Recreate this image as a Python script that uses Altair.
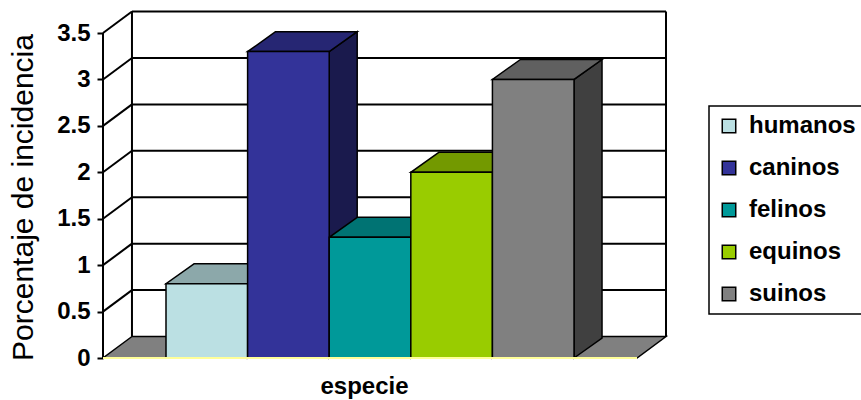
import altair as alt
import pandas as pd

# ---- data ----
species = ["humanos", "caninos", "felinos", "equinos", "suinos"]
values = [0.8, 3.3, 1.3, 2.0, 3.0]
front_colors = ["#BBE0E3", "#333399", "#009999", "#99CC00", "#808080"]
top_colors = ["#8CA8AA", "#262673", "#007373", "#739900", "#606060"]
side_colors = ["#5E7072", "#1A1A4D", "#004D4D", "#4D6600", "#404040"]
y_ticks = [0, 0.5, 1, 1.5, 2, 2.5, 3, 3.5]
y_max = 3.5
floor_color = "#808080"
axis_line_color = "#FFFF99"

# ---- geometry constants (in bar-width / value units) ----
X0, X1 = -0.772, 5.772          # floor front edge
WALL_DX, WALL_DY = 0.355, 0.2315  # depth of the floor / walls
BAR_DX, BAR_DY = 0.343, 0.215     # depth of the bars
FONT = "Liberation Sans"

xs = alt.Scale(domain=[X0, X1 + WALL_DX], nice=False, zero=False)
ys = alt.Scale(domain=[0, y_max + WALL_DY + 0.006], nice=False, zero=False)

x_axis = alt.Axis(labels=False, ticks=False, domain=False, grid=False,
                  title="especie", titleFont=FONT, titleFontWeight="bold",
                  titleFontSize=24, titleColor="black", titleX=261, titleY=28,
                  titleBaseline="middle", titleAlign="center")
y_axis = alt.Axis(values=y_ticks, format="~g", grid=False, domain=False,
                  tickColor="black", tickWidth=2, tickSize=6,
                  labelFont=FONT, labelFontWeight="bold", labelFontSize=24,
                  labelColor="black", labelPadding=7,
                  title="Porcentaje de incidencia", titleFont=FONT,
                  titleFontSize=30, titleFontWeight="normal", titleColor="black",
                  titleX=-80, titleY=186, titleAngle=270,
                  titleBaseline="middle", titleAlign="center")


def X(f):
    return alt.X(f, type="quantitative", scale=xs, axis=x_axis)


def Y(f):
    return alt.Y(f, type="quantitative", scale=ys, axis=y_axis)


# ---- tables built from the arrays ----
fronts = pd.DataFrame({
    "species": species,
    "x": [i for i in range(len(species))],
    "x2": [i + 1 for i in range(len(species))],
    "y": [0] * len(species),
    "y2": values,
})

tops_rows, sides_rows = [], []
for i, (s, v) in enumerate(zip(species, values)):
    tops_rows.append({"species": s, "y": v, "x": i, "x2": i + 1, "fill": top_colors[i]})
    tops_rows.append({"species": s, "y": v + BAR_DY, "x": i + BAR_DX,
                      "x2": i + 1 + BAR_DX, "fill": top_colors[i]})
    sides_rows.append({"species": s, "x": i + 1, "y": 0, "y2": v, "fill": side_colors[i]})
    sides_rows.append({"species": s, "x": i + 1 + BAR_DX, "y": BAR_DY,
                       "y2": v + BAR_DY, "fill": side_colors[i]})
tops = pd.DataFrame(tops_rows)
sides = pd.DataFrame(sides_rows)

floor = pd.DataFrame({
    "y": [0, WALL_DY],
    "x": [X0, X0 + WALL_DX],
    "x2": [X1, X1 + WALL_DX],
})

# wall edges and gridlines
lines = []
bx0, bx1 = X0 + WALL_DX, X1 + WALL_DX
for k in y_ticks[1:]:
    lines.append({"x": bx0, "y": k + WALL_DY, "x2": bx1, "y2": k + WALL_DY})  # back grid
    lines.append({"x": X0, "y": k, "x2": bx0, "y2": k + WALL_DY})            # side grid
lines.append({"x": X0, "y": 0, "x2": X0, "y2": y_max})                       # front left edge
lines.append({"x": bx0, "y": WALL_DY, "x2": bx0, "y2": y_max + WALL_DY})     # back left edge
lines.append({"x": bx1, "y": WALL_DY, "x2": bx1, "y2": y_max + WALL_DY})     # back right edge
walls = pd.DataFrame(lines)

base_line = pd.DataFrame({"x": [X0], "x2": [X1], "y": [0]})

# ---- layers ----
floor_layer = alt.Chart(floor).mark_area(
    orient="horizontal", fill=floor_color, stroke="black", strokeWidth=1.5
).encode(y=Y("y"), x=X("x"), x2="x2")

wall_layer = alt.Chart(walls).mark_rule(color="black", strokeWidth=2).encode(
    x=X("x"), y=Y("y"), x2="x2", y2="y2")

side_layer = alt.Chart(sides).mark_area(
    orient="vertical", stroke="black", strokeWidth=1.5
).encode(x=X("x"), y=Y("y"), y2="y2",
         fill=alt.Fill("fill:N", scale=None), detail="species:N")

top_layer = alt.Chart(tops).mark_area(
    orient="horizontal", stroke="black", strokeWidth=1.5
).encode(y=Y("y"), x=X("x"), x2="x2",
         fill=alt.Fill("fill:N", scale=None), detail="species:N")

front_layer = alt.Chart(fronts).mark_rect(stroke="black", strokeWidth=1.5).encode(
    x=X("x"), x2="x2", y=Y("y"), y2="y2",
    color=alt.Color("species:N",
                    scale=alt.Scale(domain=species, range=front_colors),
                    legend=alt.Legend(title=None, orient="none", legendX=606, legendY=95,
                                      strokeColor="black", padding=8,
                                      fillColor="white", symbolType="square",
                                      symbolSize=182, symbolStrokeColor="black",
                                      symbolStrokeWidth=1.5, labelFont=FONT,
                                      labelFontWeight="bold", labelFontSize=24,
                                      labelColor="black", labelOffset=8,
                                      rowPadding=18)))

base_layer = alt.Chart(base_line).mark_rule(color=axis_line_color, strokeWidth=2).encode(
    x=X("x"), x2="x2", y=Y("y"))

chart = alt.layer(
    floor_layer, wall_layer, side_layer, top_layer, front_layer, base_layer
).properties(
    width=563, height=347,
    padding={"left": 103, "top": 11, "right": 195, "bottom": 42},
    autosize=alt.AutoSizeParams(type="none"),
    background="white",
).configure_view(stroke=None).configure_legend(strokeWidth=1.5)

chart.save("out.html", embed_options={"renderer": "svg", "actions": False})
